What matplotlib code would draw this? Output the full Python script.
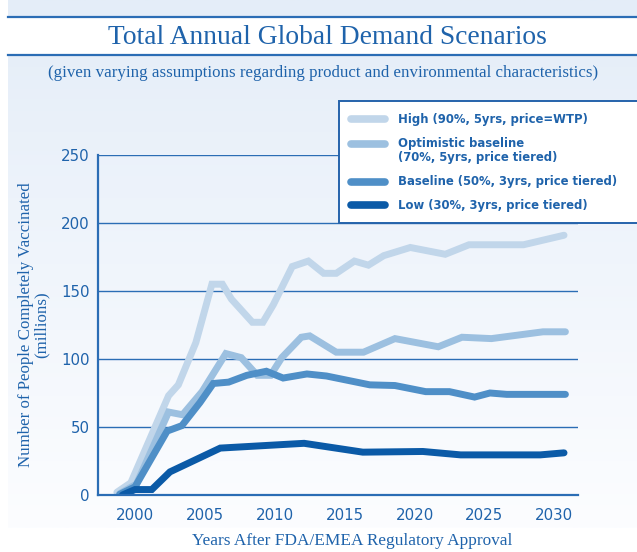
import matplotlib
matplotlib.use("Agg")
import matplotlib.pyplot as plt
import numpy as np
from matplotlib.patches import Rectangle
from matplotlib.lines import Line2D

# ---------------- data ----------------
high_years = [1998.7, 1999.7, 2002.4, 2003.1, 2004.35, 2005.5, 2006.25, 2006.9, 2008.4,
              2009.15, 2009.9, 2011.25, 2012.4, 2013.5, 2014.4, 2015.7, 2016.7, 2017.8,
              2019.7, 2022.2, 2023.9, 2027.8, 2030.7]
high_vals = [2, 9, 73, 81, 112, 155, 155, 144, 127, 127, 140, 168, 172, 163, 163, 172, 169,
             176, 182, 177, 184, 184, 191]

opt_years = [1998.9, 2000.1, 2002.4, 2003.4, 2004.8, 2006.5, 2007.6, 2008.75, 2009.7, 2010.5,
             2011.9, 2012.5, 2014.4, 2016.35, 2018.6, 2021.7, 2023.4, 2025.5, 2029.2, 2030.8]
opt_vals = [1, 8, 61, 59, 76, 104, 101, 88, 88, 101, 116, 117, 105, 105, 115, 109, 116, 115,
            120, 120]

base_years = [1998.9, 2000.0, 2002.3, 2003.35, 2004.65, 2005.6, 2006.7, 2008.0, 2009.4,
              2010.6, 2012.3, 2013.7, 2016.8, 2018.6, 2020.8, 2022.5, 2024.3, 2025.4,
              2026.6, 2030.8]
base_vals = [0.5, 6, 47, 51, 68, 82, 83, 88, 91, 86, 89, 87.5, 81, 80.5, 76, 76, 72, 75,
             74, 74]

low_years = [1999.1, 2000.0, 2001.2, 2002.5, 2006.1, 2012.1, 2016.3, 2020.6, 2023.3,
             2029.0, 2030.7]
low_vals = [0, 4, 4, 17, 34.5, 38, 31.5, 32, 29.5, 29.5, 31]

series_names = ["High (90%, 5yrs, price=WTP)",
                "Optimistic baseline\n(70%, 5yrs, price tiered)",
                "Baseline (50%, 3yrs, price tiered)",
                "Low (30%, 3yrs, price tiered)"]
series_colors = ["#c1d6ea", "#9cc0e0", "#4f8fc7", "#0b5aa7"]

y_ticks = [0, 50, 100, 150, 200, 250]
x_ticks = [2000, 2005, 2010, 2015, 2020, 2025, 2030]

title = "Total Annual Global Demand Scenarios"
subtitle = "(given varying assumptions regarding product and environmental characteristics)"
ylabel = "Number of People Completely Vaccinated\n(millions)"
xlabel = "Years After FDA/EMEA Regulatory Approval"

# ---------------- layout helpers ----------------
W, H = 637, 552
def fx(px):
    return px / W
def fy(py):
    return 1 - py / H

axis_blue = "#2b6db5"
text_blue = "#1f63ab"
serif = ["Liberation Serif", "DejaVu Serif"]
sans = ["DejaVu Sans"]

fig = plt.figure(figsize=(W / 100, H / 100), dpi=100)
fig.patch.set_facecolor("white")

# gradient background panel
bg = fig.add_axes([fx(8), fy(528), 1 - fx(8), 528 / H], zorder=-5)
top_c = np.array([228, 237, 248]) / 255
bot_c = np.array([252, 253, 255]) / 255
t = np.linspace(0, 1, 256)[:, None]
grad = top_c[None, :] * (1 - t) + bot_c[None, :] * t
bg.imshow(grad[:, None, :], aspect="auto", extent=[0, 1, 0, 1])
bg.axis("off")

# title band
fig.add_artist(Rectangle((fx(8), fy(55)), 1 - fx(8), (55 - 17) / H,
                         transform=fig.transFigure, facecolor="white", edgecolor="none", zorder=1))
for yy in (17, 55):
    fig.add_artist(Line2D([fx(8), 1], [fy(yy), fy(yy)], transform=fig.transFigure,
                          color=axis_blue, lw=1.6, zorder=2))
fig.text(fx(327), fy(37), title, ha="center", va="center", fontsize=19.8,
         family=serif, color=text_blue)
fig.text(fx(323), fy(73), subtitle, ha="center", va="center", fontsize=12.2,
         family=serif, color=text_blue)

# main axes
ax = fig.add_axes([fx(98), fy(495), (578 - 98) / W, (495 - 155) / H])
ax.set_facecolor("none")
ax.set_xlim(1997.35, 2031.7)
ax.set_ylim(0, 250)
for s in ("top", "right"):
    ax.spines[s].set_visible(False)
for s in ("left", "bottom"):
    ax.spines[s].set_color(axis_blue)
    ax.spines[s].set_linewidth(1.6)
ax.set_yticks(y_ticks)
ax.set_xticks(x_ticks)
ax.yaxis.grid(True, color=axis_blue, lw=1.0)
ax.set_axisbelow(True)
ax.tick_params(length=0, colors=text_blue, labelsize=10.8)
ax.tick_params(axis="x", pad=9)
ax.tick_params(axis="y", pad=6)
for lab in ax.get_xticklabels() + ax.get_yticklabels():
    lab.set_family(sans)

all_x = [high_years, opt_years, base_years, low_years]
all_y = [high_vals, opt_vals, base_vals, low_vals]
for xs, ys, c in zip(all_x, all_y, series_colors):
    ax.plot(xs, ys, color=c, lw=5, solid_capstyle="round", solid_joinstyle="miter")

ax.set_ylabel(ylabel, family=serif, fontsize=12.2, color=text_blue, labelpad=8,
              linespacing=1.0)
fig.text(fx(352), fy(541), xlabel, ha="center", va="center", family=serif,
         fontsize=12.4, color=text_blue)

# legend box (custom)
fig.add_artist(Rectangle((fx(339), fy(223)), 1.0, (223 - 101) / H,
                         transform=fig.transFigure, facecolor="white",
                         edgecolor="#2563ab", lw=1.4, zorder=1))
handle_y = [119, 144, 182, 205]
text_y = [119, 150.5, 182, 205]
for name, c, hy, ty in zip(series_names, series_colors, handle_y, text_y):
    fig.add_artist(Line2D([fx(351), fx(385)], [fy(hy), fy(hy)], transform=fig.transFigure,
                          color=c, lw=5.5, solid_capstyle="round", zorder=2))
    fig.text(fx(398), fy(ty), name, ha="left", va="center", fontsize=8.4,
             family=sans, weight="bold", color=text_blue, linespacing=1.15, zorder=3)

fig.savefig("out.png", dpi=100)
